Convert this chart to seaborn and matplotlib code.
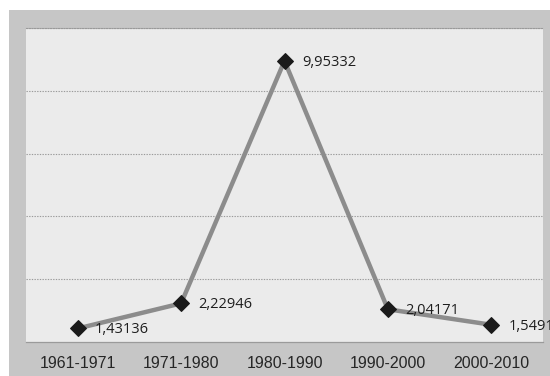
import matplotlib
matplotlib.use("Agg")
import matplotlib.pyplot as plt
from matplotlib.patches import Rectangle
from matplotlib.ticker import FixedLocator
import seaborn as sns
import pandas as pd

periods = ["1961-1971", "1971-1980", "1980-1990", "1990-2000", "2000-2010"]
growth = [1.43136, 2.22946, 9.95332, 2.04171, 1.54913]
value_labels = ["1,43136", "2,22946", "9,95332", "2,04171", "1,54913"]
grid_levels = [3, 5, 7, 9, 11]

df = pd.DataFrame({"pos": range(len(periods)), "periode": periods, "laju": growth})

sns.set_style("white")
plt.rcParams["font.family"] = ["Liberation Sans", "DejaVu Sans"]

fig = plt.figure(figsize=(5.5, 3.76), dpi=100)
fig.patch.set_facecolor("white")
# grey chart frame behind the plot area
fig.patches.append(Rectangle((9 / 550, 0), 1, 1 - 10 / 376, transform=fig.transFigure,
                             facecolor="#c6c6c6", edgecolor="none", zorder=-10))

ax = fig.add_axes([26 / 550, 34 / 376, 517 / 550, 314 / 376])
ax.set_zorder(1)
ax.set_facecolor("#ebebeb")

sns.lineplot(data=df, x="pos", y="laju", ax=ax, color="#8c8c8c", linewidth=3.2,
             marker="D", markersize=8.5, markerfacecolor="#1a1a1a",
             markeredgecolor="#1a1a1a", zorder=3, clip_on=False)

for x, y, txt in zip(df["pos"], df["laju"], value_labels):
    ax.annotate(txt, (x, y), xytext=(12.5, -1), textcoords="offset points",
                ha="left", va="center", fontsize=10.5, color="#1e1e1e",
                family=["Open Sans", "DejaVu Sans"], annotation_clip=False,
                clip_on=False, zorder=4)

ax.set_xlim(-0.5, len(periods) - 0.5)
ax.set_ylim(1, 11)
ax.yaxis.set_major_locator(FixedLocator(grid_levels))
ax.set_yticklabels([])
ax.tick_params(axis="y", length=0)
ax.grid(axis="y", color="#9a9a9a", linestyle=(0, (1.2, 1.2)), linewidth=0.8)
ax.set_axisbelow(True)

ax.set_xticks(range(len(periods)))
ax.set_xticklabels(periods, fontsize=11.5, color="#262626")
ax.xaxis.set_minor_locator(FixedLocator([i - 0.5 for i in range(len(periods) + 1)]))
ax.tick_params(axis="x", which="major", length=0, pad=10)
ax.tick_params(axis="x", which="minor", length=5, width=0.8, color="#9a9a9a", direction="out")
ax.set_xlabel("")
ax.set_ylabel("")

for side in ["left", "right"]:
    ax.spines[side].set_visible(False)
# the top gridline coincides with the upper edge of the plot area
ax.spines["top"].set_color("#9a9a9a")
ax.spines["top"].set_linestyle((0, (1.2, 1.2)))
ax.spines["top"].set_linewidth(0.8)
ax.spines["bottom"].set_color("#9a9a9a")
ax.spines["bottom"].set_linewidth(0.9)

fig.savefig("out.png", dpi=100, facecolor=fig.get_facecolor())
